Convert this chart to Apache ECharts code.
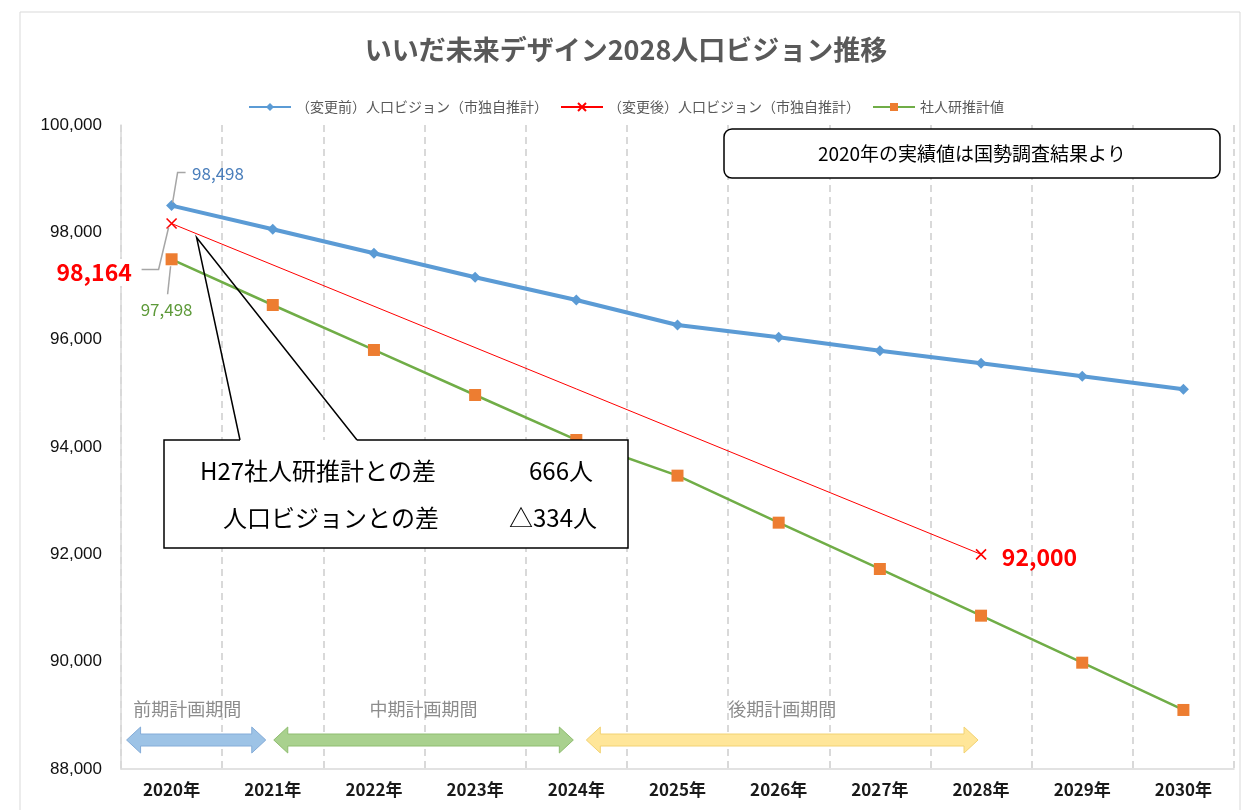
<!DOCTYPE html>
<html><head><meta charset="utf-8">
<script src="https://cdn.jsdelivr.net/npm/echarts@6/dist/echarts.min.js"></script>
<style>html,body{margin:0;padding:0;background:#fff}#c{width:1252px;height:810px}</style>
</head><body><div id="c"></div>
<script>
const years = ['2020年','2021年','2022年','2023年','2024年','2025年','2026年','2027年','2028年','2029年','2030年'];
const beforeVision = [98498, 98057, 97609, 97162, 96739, 96273, 96044, 95795, 95560, 95318, 95075];
const afterVision = [98164, null, null, null, null, null, null, null, 92000, null, null];
const ipssEstimate = [97498, 96646, 95808, 94969, 94131, 93466, 92590, 91727, 90857, 89981, 89100];
const seriesNames = ['（変更前）人口ビジョン（市独自推計）','（変更後）人口ビジョン（市独自推計）','社人研推計値'];
const yMin = 88000, yMax = 100000, yStep = 2000;
const periodNames = ['前期計画期間','中期計画期間','後期計画期間'];
const periodStart = [0, 1, 4];
const periodEnd = [1, 4, 8];

const FONT = "'Noto Sans CJK JP','Noto Sans',sans-serif";
const fmt = v => Number(v).toLocaleString('en-US');
const X_PATH = 'path://M0,0L10,10M10,0L0,10';

const chart = echarts.init(document.getElementById('c'), null, {renderer:'canvas'});

function labelled(arr, idx) {
  return arr.map((v, i) => (idx.hasOwnProperty(i) && v != null) ? {value: v, label: Object.assign({show: true, formatter: p => fmt(p.value)}, idx[i])} : v);
}

const option = {
  animation: false,
  backgroundColor: '#fff',
  textStyle: {fontFamily: FONT},
  title: {
    text: 'いいだ未来デザイン2028人口ビジョン推移',
    left: 'center', top: 31,
    textStyle: {fontSize: 27, fontWeight: 'bold', color: '#595959', fontFamily: FONT}
  },
  legend: {
    top: 95, left: 'center',
    itemWidth: 42, itemHeight: 10, itemGap: 12,
    textStyle: {color: '#595959', fontSize: 14, fontFamily: FONT},
    data: seriesNames
  },
  grid: {left: 121, right: 18, top: 125, bottom: 41, containLabel: false},
  xAxis: {
    type: 'category', data: years, boundaryGap: true,
    axisLine: {show: true, lineStyle: {color: '#d9d9d9', width: 1.5}},
    axisTick: {show: false},
    splitLine: {show: true, lineStyle: {color: '#d9d9d9', width: 2, type: [7, 5]}},
    axisLabel: {color: '#1a1a1a', fontSize: 17, fontWeight: 'bold', margin: 12, fontFamily: FONT}
  },
  yAxis: {
    type: 'value', min: yMin, max: yMax, interval: yStep,
    axisLine: {show: true, lineStyle: {color: '#d9d9d9', width: 1.5}},
    axisTick: {show: false},
    splitLine: {show: false},
    axisLabel: {color: '#111', fontSize: 17, margin: 19, fontFamily: "'Liberation Sans',Arial,sans-serif", formatter: v => fmt(v)}
  },
  series: [
    {
      name: seriesNames[0], type: 'line', z: 4,
      data: labelled(beforeVision, {0: {position: 'right', offset: [10, -32], color: '#4a7ebb', fontSize: 17}}),
      symbol: 'diamond', symbolSize: 11,
      itemStyle: {color: '#5b9bd5'},
      lineStyle: {color: '#5b9bd5', width: 4}
    },
    {
      name: seriesNames[1], type: 'line', z: 3, connectNulls: true,
      data: labelled(afterVision, {
        0: {position: 'left', offset: [-25, 49], color: '#ff0000', fontSize: 23, fontWeight: 'bold', backgroundColor: '#fff', padding: [2, 4]},
        8: {position: 'right', offset: [10, 3], color: '#ff0000', fontSize: 23, fontWeight: 'bold'}
      }),
      symbol: X_PATH, symbolSize: 10,
      itemStyle: {color: 'rgba(0,0,0,0)', borderColor: '#ff0000', borderWidth: 1.6},
      lineStyle: {color: '#ff0000', width: 1}
    },
    {
      name: seriesNames[2], type: 'line', z: 3,
      data: labelled(ipssEstimate, {0: {position: 'bottom', offset: [-5, 31], color: '#5e9a3a', fontSize: 17}}),
      symbol: 'rect', symbolSize: 12,
      itemStyle: {color: '#ed7d31'},
      lineStyle: {color: '#70ad47', width: 2.5}
    }
  ]
};
chart.setOption(option);

// annotations anchored to data positions
const P = (si, i, v) => chart.convertToPixel({seriesIndex: si}, [i, v]);
const pb = P(0, 0, beforeVision[0]);
const pr = P(1, 0, afterVision[0]);
const pg = P(2, 0, ipssEstimate[0]);
const xc = i => chart.convertToPixel({xAxisIndex: 0}, i);
const yBase = chart.convertToPixel({yAxisIndex: 0}, yMin);

const g = [];
// outer frame
g.push({type: 'rect', shape: {x: 20, y: 12, width: 1220, height: 820}, style: {fill: 'none', stroke: '#d9d9d9', lineWidth: 1}, z: 0, silent: true});
// leader lines
const lead = {stroke: '#a6a6a6', lineWidth: 1.5, fill: 'none'};
g.push({type: 'polyline', shape: {points: [[pb[0] + 1, pb[1] - 3], [pb[0] + 6, pb[1] - 33], [pb[0] + 14, pb[1] - 33]]}, style: lead, z: 50});
g.push({type: 'polyline', shape: {points: [[pr[0] - 3, pr[1] + 4], [pr[0] - 13, pr[1] + 46], [pr[0] - 30, pr[1] + 46]]}, style: lead, z: 50});
g.push({type: 'polyline', shape: {points: [[pg[0] - 1, pg[1] + 7], [pg[0] - 4, pg[1] + 35]]}, style: lead, z: 50});

// note box
g.push({type: 'rect', shape: {x: 724, y: 129, width: 496, height: 49, r: 8}, style: {fill: '#fff', stroke: '#000', lineWidth: 1.5}, z: 60});
g.push({type: 'text', x: 972, y: 154, style: {text: '2020年の実績値は国勢調査結果より', fontSize: 19, fontFamily: FONT, fill: '#000', align: 'center', verticalAlign: 'middle'}, z: 61});

// callout with wedge
const bx = 164, by = 440, bw = 464, bh = 108;
const tip = [pb[0] + 25, pr[1] + 14];
g.push({type: 'rect', shape: {x: bx, y: by, width: bw, height: bh}, style: {fill: '#fff'}, z: 60});
g.push({type: 'polyline', shape: {points: [[bx + 76, by], tip, [bx + 193, by]]}, style: {stroke: '#000', lineWidth: 1.5, fill: 'none'}, z: 61});
g.push({type: 'polyline', shape: {points: [[bx + 76, by], [bx, by], [bx, by + bh], [bx + bw, by + bh], [bx + bw, by], [bx + 193, by]]}, style: {stroke: '#000', lineWidth: 1.5, fill: 'none'}, z: 61});
const diffIpss = afterVision[0] - ipssEstimate[0];
const diffVision = afterVision[0] - beforeVision[0];
const showDiff = d => (d < 0 ? '△' : '') + fmt(Math.abs(d)) + '人';
const ct = {fontSize: 24, fontFamily: FONT, fill: '#000', verticalAlign: 'middle'};
g.push({type: 'text', x: 200, y: 471, style: Object.assign({text: 'H27社人研推計との差', align: 'left'}, ct), z: 62});
g.push({type: 'text', x: 593, y: 471, style: Object.assign({text: showDiff(diffIpss), align: 'right'}, ct), z: 62});
g.push({type: 'text', x: 223, y: 518, style: Object.assign({text: '人口ビジョンとの差', align: 'left'}, ct), z: 62});
g.push({type: 'text', x: 597, y: 518, style: Object.assign({text: showDiff(diffVision), align: 'right'}, ct), z: 62});

// period arrows
function dblArrow(x1, x2, y, fill, stroke) {
  const sh = 6, hh = 13, hl = 14;
  return {type: 'polygon', shape: {points: [
    [x1, y], [x1 + hl, y - hh], [x1 + hl, y - sh], [x2 - hl, y - sh], [x2 - hl, y - hh], [x2, y],
    [x2 - hl, y + hh], [x2 - hl, y + sh], [x1 + hl, y + sh], [x1 + hl, y + hh]
  ]}, style: {fill: fill, stroke: stroke, lineWidth: 1}, z: 40};
}
const arrowY = yBase - 29;
const fills = [['#9dc3e6', '#84acd8'], ['#a9d18e', '#8fbd70'], ['#ffe699', '#f2d272']];
const x1s = [xc(periodStart[0]) - 45, xc(periodStart[1]) + 1, xc(periodStart[2]) + 10];
const x2s = [xc(periodEnd[0]) - 7, xc(periodEnd[1]) - 3, xc(periodEnd[2]) - 3];
for (let k = 0; k < 3; k++) {
  g.push(dblArrow(x1s[k], x2s[k], arrowY, fills[k][0], fills[k][1]));
  g.push({type: 'text', x: (x1s[k] + x2s[k]) / 2 + (k === 0 ? -9 : 0), y: yBase - 60, style: {text: periodNames[k], fontSize: 18, fontFamily: FONT, fill: '#8c8c8c', align: 'center', verticalAlign: 'middle'}, z: 40});
}
chart.setOption({graphic: g});
</script></body></html>
